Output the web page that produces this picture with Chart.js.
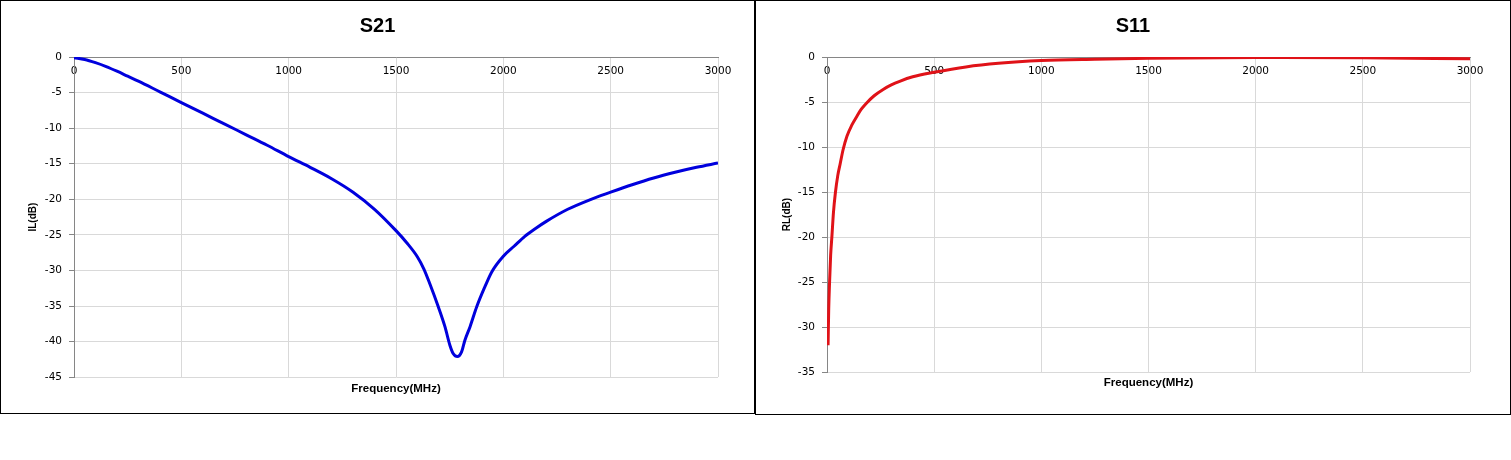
<!DOCTYPE html>
<html lang="en">

<head>
    <meta charset="UTF-8">
    <title>S21 / S11</title>
    <script src="https://cdn.jsdelivr.net/npm/chart.js"></script>
    <style>
        body {
            margin: 0;
            background: #fff;
        }

        .box {
            position: absolute;
            top: 0;
            box-sizing: border-box;
            border: 1px solid #000;
            background: #fff;
        }

        #boxS21 {
            left: 0;
            width: 755px;
            height: 414px;
        }

        #boxS11 {
            left: 755px;
            width: 756px;
            height: 415px;
        }

        .box div {
            position: relative;
            width: 100%;
            height: 100%;
        }
    </style>
</head>

<body>

    <div class="box" id="boxS21"><div><canvas id="chartS21"></canvas></div></div>
    <div class="box" id="boxS11"><div><canvas id="chartS11"></canvas></div></div>

    <script type='text/javascript'>
        // S21 (insertion loss)
        var s21Freq = [0, 50, 100, 150, 200, 250, 300, 400, 500, 600, 700, 800, 900, 1000, 1100, 1200, 1300, 1400, 1500,
            1550, 1600, 1630, 1658, 1697, 1728, 1751, 1767, 1786, 1806, 1821, 1845, 1876, 1914, 1946, 2000,
            2050, 2100, 2150, 2200, 2300, 2400, 2500, 2600, 2700, 2800, 2900, 3000];
        var s21Values = [-0.1, -0.35, -0.8, -1.35, -2.0, -2.7, -3.4, -4.9, -6.4, -7.9, -9.4, -10.9, -12.4, -14.0, -15.5, -17.1, -19.0, -21.4, -24.4,
            -26.1, -28.1, -29.8, -31.9, -35.1, -37.9, -40.5, -41.7, -42.1, -41.4, -39.8, -37.9, -35.1, -32.3, -30.2, -28.0,
            -26.6, -25.2, -24.1, -23.1, -21.4, -20.1, -19.0, -17.95, -17.0, -16.2, -15.5, -14.9];

        // S11 (return loss)
        var s11Freq = [5, 8, 12, 17, 23, 30, 39, 50, 62, 75, 93, 115, 139, 160, 185, 220, 262, 300, 339, 400,
            500, 648, 800, 1000, 1250, 1500, 2000, 2500, 3000];
        var s11Values = [-32, -28, -25, -22, -19.9, -17.3, -15.1, -13.2, -11.8, -10.3, -8.8, -7.6, -6.6, -5.8, -5.1, -4.3, -3.6, -3.1, -2.7, -2.2,
            -1.7, -1.1, -0.7, -0.4, -0.25, -0.15, -0.05, -0.08, -0.2];

        var freqTicks = [0, 500, 1000, 1500, 2000, 2500, 3000];

        function toPoints(xs, ys) {
            var pts = [];
            for (var i = 0; i < xs.length; i++) {
                pts.push({ x: xs[i], y: ys[i] });
            }
            return pts;
        }

        var gridColor = '#d9d9d9';
        var axisColor = '#868686';
        var tickFont = { family: 'DejaVu Sans', size: 10.5 };

        function plainNumber(value) {
            return String(value);
        }

        function makeChart(id, title, yTitle, points, color, yMin, opts) {
            var ctx = document.getElementById(id).getContext('2d');
            return new Chart(ctx, {
                type: 'line',
                data: {
                    datasets: [{
                        data: points,
                        borderColor: color,
                        borderWidth: 3,
                        pointRadius: 0,
                        cubicInterpolationMode: 'monotone',
                        fill: false
                    }]
                },
                options: {
                    responsive: true,
                    maintainAspectRatio: false,
                    animation: false,
                    layout: {
                        // same left/right padding so the title stays centred on the box
                        padding: { left: opts.pad, right: opts.pad, top: 0, bottom: opts.padBottom }
                    },
                    plugins: {
                        legend: { display: false },
                        tooltip: { enabled: false },
                        title: {
                            display: true,
                            text: title,
                            color: '#000',
                            font: { family: 'Liberation Sans', size: 20, weight: 'bold' },
                            padding: { top: 13, bottom: 19 }
                        }
                    },
                    scales: {
                        x: {
                            type: 'linear',
                            position: 'bottom',
                            min: 0,
                            max: 3000,
                            afterBuildTicks: function (scale) {
                                scale.ticks = freqTicks.map(function (v) { return { value: v }; });
                            },
                            ticks: { display: false },
                            grid: { color: gridColor, drawTicks: false },
                            border: { display: false },
                            title: {
                                display: true,
                                text: 'Frequency(MHz)',
                                color: '#000',
                                font: { family: 'Liberation Sans', size: 11.5, weight: 'bold' },
                                padding: { top: opts.xTitlePad, bottom: 0 }
                            }
                        },
                        // tick labels sit under the 0 dB line, like the original sheet
                        xTop: {
                            type: 'linear',
                            position: { y: 0 },
                            min: 0,
                            max: 3000,
                            afterBuildTicks: function (scale) {
                                scale.ticks = freqTicks.map(function (v) { return { value: v }; });
                            },
                            ticks: { color: '#000', font: tickFont, padding: 8, maxRotation: 0, autoSkip: false, callback: plainNumber },
                            grid: { display: false, drawTicks: false },
                            border: { display: true, color: axisColor }
                        },
                        y: {
                            min: yMin,
                            max: 0,
                            ticks: { stepSize: 5, color: '#000', font: tickFont, padding: 7, callback: plainNumber },
                            grid: { color: gridColor, tickColor: axisColor, tickLength: 5 },
                            border: { display: true, color: axisColor },
                            title: {
                                display: true,
                                text: yTitle,
                                color: '#000',
                                font: { family: 'Liberation Sans', size: 10, weight: 'bold' },
                                padding: { top: opts.yTitlePad, bottom: 0 }
                            },
                            afterFit: function (scale) {
                                scale.width = opts.yWidth;
                            }
                        }
                    }
                }
            });
        }

        makeChart('chartS21', 'S21', 'IL(dB)', toPoints(s21Freq, s21Values), '#0000dd', -45,
            { pad: 36, padBottom: 17, yWidth: 37, yTitlePad: -10, xTitlePad: 5 });

        makeChart('chartS11', 'S11', 'RL(dB)', toPoints(s11Freq, s11Values), '#e01218', -35,
            { pad: 40, padBottom: 24, yWidth: 31, yTitlePad: -15, xTitlePad: 4 });
    </script>

</body>

</html>
